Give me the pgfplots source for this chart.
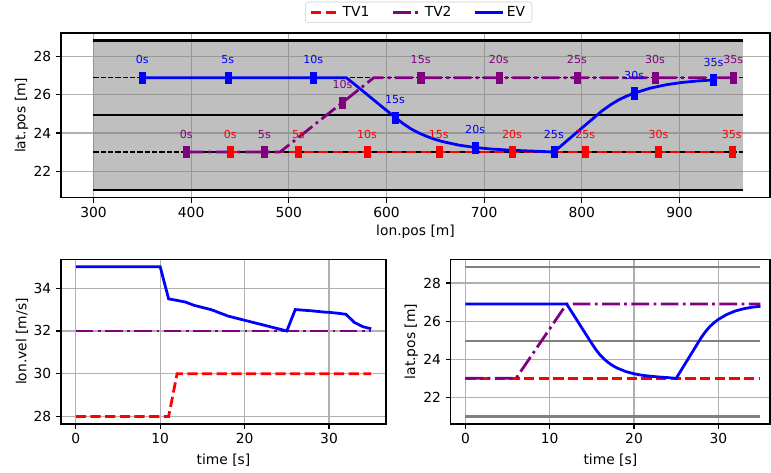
\documentclass[border=0pt]{standalone}
\usepackage{fontspec}
\setmainfont{DejaVu Sans}
\usepackage{pgfplots}
\usepackage{pgfplotstable}
\pgfplotsset{compat=1.18}
\definecolor{mblue}{RGB}{0,0,255}
\definecolor{mred}{RGB}{255,0,0}
\definecolor{mpurple}{RGB}{128,0,128}
\definecolor{mgray}{RGB}{128,128,128}
\definecolor{gridc}{RGB}{176,176,176}
\definecolor{legc}{RGB}{204,204,204}

\pgfplotstableread{
t lon lat vel
0 350 26.9 35
5 437.5 26.9 35
10 525 26.9 35
11 542.1 26.9 33.5
12 558.9 26.9 33.43
13 575.6 26.21 33.35
14 592.2 25.51 33.2
15 608.8 24.82 33.1
15.5 617.1 24.49 33.05
16 625.3 24.21 33.0
16.5 633.5 23.99 32.93
17 641.8 23.81 32.85
17.5 650.0 23.66 32.78
18 658.2 23.54 32.7
19 674.5 23.36 32.6
20 690.8 23.24 32.5
21 707.0 23.16 32.4
22 723.2 23.11 32.3
23 739.3 23.07 32.2
24 755.4 23.04 32.1
25 771.4 23.0 32.0
26 787.7 23.72 33.0
27 804.2 24.44 32.97
28 820.7 25.16 32.94
28.5 828.9 25.46 32.92
29 837.1 25.72 32.9
29.5 845.3 25.92 32.88
30 853.6 26.09 32.87
31 870.0 26.35 32.83
32 886.4 26.53 32.78
33 902.7 26.65 32.4
34 918.9 26.73 32.2
35 934.9 26.78 32.1
}\evtab

\pgfplotsset{
  every axis/.append style={
    scale only axis,
    anchor=south west,
    axis line style={line width=0.8pt},
    tick align=outside,
    tick pos=left,
    major tick length=3.5pt,
    every tick/.style={black, line width=0.8pt},
    grid=major,
    major grid style={gridc, line width=0.8pt},
    /pgf/number format/assume math mode=true,
    tick label style={font=\fontsize{10}{12}\selectfont},
    label style={font=\fontsize{10}{12}\selectfont},
    ylabel shift=-3pt,
    scaled ticks=false,
  },
  tvone/.style={mred, line width=2pt, dash pattern=on 7.4pt off 3.2pt},
  tvtwo/.style={mpurple, line width=2pt, dash pattern=on 12.8pt off 3.2pt on 2pt off 3.2pt},
  evl/.style={mblue, line width=2pt},
}

\begin{document}
\begin{tikzpicture}
\path (0,0) rectangle (7.71in,4.73in);

% ---------- top axis ----------
\begin{axis}[at={(0.61in,2.753in)}, width=7.09in, height=1.647in,
  xmin=266.75, xmax=992.7, ymin=20.6075, ymax=29.2425,
  xtick={300,400,500,600,700,800,900}, ytick={22,24,26,28},
  xlabel={lon.pos [m]}, ylabel={lat.pos [m]},
  xlabel style={yshift=2pt},
  legend columns=3,
  legend image code/.code={\draw[#1] (0pt,0pt) -- (20pt,0pt);},
  legend style={at={(0.5045,1.061)}, anchor=south, draw=legc, rounded corners=2pt,
    font=\fontsize{10}{12}\selectfont, inner xsep=3pt, inner ysep=1.5pt,
    nodes={inner ysep=1.5pt},
    /tikz/every even column/.append style={column sep=14pt},
    cells={anchor=west}},
]
\addplot[fill=mgray, fill opacity=0.5, draw=none, forget plot] coordinates {(300,21) (965,21) (965,28.85) (300,28.85)};
\addplot[black, line width=1.5pt, forget plot] coordinates {(300,21) (965,21)};
\addplot[black, line width=1.5pt, forget plot] coordinates {(300,24.95) (965,24.95)};
\addplot[black, line width=1.5pt, forget plot] coordinates {(300,28.85) (965,28.85)};
\addplot[black, line width=1pt, dash pattern=on 3.7pt off 1.6pt, forget plot] coordinates {(300,23) (965,23)};
\addplot[black, line width=1pt, dash pattern=on 3.7pt off 1.6pt, forget plot] coordinates {(300,26.9) (965,26.9)};
\addplot[tvone] coordinates {(440,23) (953.5,23)};
\addlegendentry{TV1}
\addplot[tvtwo] coordinates {(395,23) (491,23) (587,26.9) (955,26.9)};
\addlegendentry{TV2}
\addplot[evl] table[x=lon, y=lat] {\evtab};
\addlegendentry{EV}
\addplot[only marks, mark=square*, mark size=4pt, forget plot,
    mark options={solid, xscale=0.55, fill=mred, draw=mred, line width=0.2pt},
    nodes near coords, point meta=explicit symbolic,
    every node near coord/.append style={font=\fontsize{8}{9.6}\selectfont, text=mred, inner sep=0pt, anchor=south, yshift=9.7pt}]
  coordinates {(440,23) [0s] (510,23) [5s] (580,23) [10s] (653.5,23) [15s] (728.5,23) [20s] (803.5,23) [25s] (878.5,23) [30s] (953.5,23) [35s]};
\addplot[only marks, mark=square*, mark size=4pt, forget plot,
    mark options={solid, xscale=0.55, fill=mpurple, draw=mpurple, line width=0.2pt},
    nodes near coords, point meta=explicit symbolic,
    every node near coord/.append style={font=\fontsize{8}{9.6}\selectfont, text=mpurple, inner sep=0pt, anchor=south, yshift=9.7pt}]
  coordinates {(395,23) [0s] (475,23) [5s] (555,25.6) [10s] (635,26.9) [15s] (715,26.9) [20s] (795,26.9) [25s] (875,26.9) [30s] (955,26.9) [35s]};
\addplot[only marks, mark=square*, mark size=4pt, forget plot,
    mark options={solid, xscale=0.55, fill=mblue, draw=mblue, line width=0.2pt},
    nodes near coords, point meta=explicit symbolic,
    every node near coord/.append style={font=\fontsize{8}{9.6}\selectfont, text=mblue, inner sep=0pt, anchor=south, yshift=9.7pt}]
  coordinates {(350,26.9) [0s] (437.5,26.9) [5s] (525,26.9) [10s] (608.8,24.82) [15s] (690.8,23.24) [20s] (771.4,23.0) [25s] (853.6,26.09) [30s] (934.9,26.78) [35s]};
\end{axis}

% ---------- bottom left ----------
\begin{axis}[at={(0.61in,0.49in)}, width=3.25in, height=1.647in,
  xmin=-1.75, xmax=36.75, ymin=27.65, ymax=35.35,
  xtick={0,10,20,30}, ytick={28,30,32,34},
  xlabel={time [s]}, ylabel={lon.vel [m/s]}]
\addplot[tvone] coordinates {(0,28) (11,28) (12,30) (35,30)};
\addplot[tvtwo] coordinates {(0,32) (35,32)};
\addplot[evl] table[x=t, y=vel] {\evtab};
\end{axis}

% ---------- bottom right ----------
\begin{axis}[at={(4.507in,0.49in)}, width=3.193in, height=1.647in,
  xmin=-1.75, xmax=36.13, ymin=20.6075, ymax=29.2425,
  xtick={0,10,20,30}, ytick={22,24,26,28},
  xlabel={time [s]}, ylabel={lat.pos [m]}]
\addplot[mgray, line width=1.5pt] coordinates {(0,21) (35,21)};
\addplot[mgray, line width=1.5pt] coordinates {(0,24.95) (35,24.95)};
\addplot[mgray, line width=1.5pt] coordinates {(0,28.85) (35,28.85)};
\addplot[tvone] coordinates {(0,23) (35,23)};
\addplot[tvtwo] coordinates {(0,23) (6,23) (12,26.9) (35,26.9)};
\addplot[evl] table[x=t, y=lat] {\evtab};
\end{axis}
\end{tikzpicture}
\end{document}
